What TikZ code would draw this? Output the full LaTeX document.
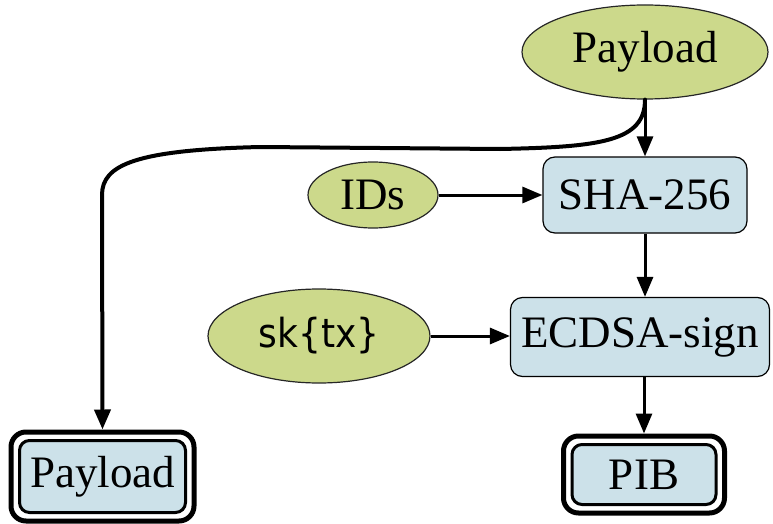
\documentclass[tikz,border=0pt]{standalone}
\usepackage{fontspec}
\setmainfont{Liberation Serif}
\newfontfamily\skfont{DejaVu Sans Condensed}
\usetikzlibrary{shapes.geometric,arrows.meta,calc}
\definecolor{ovalgreen}{HTML}{CCD98B}
\definecolor{boxblue}{HTML}{CCE1E9}
\begin{document}
\begin{tikzpicture}[x=1pt,y=-1pt,
  oval/.style={ellipse, draw=black!85, line width=1.2pt, fill=ovalgreen, inner sep=0pt, font=\fontsize{45}{50}\selectfont},
  proc/.style={rectangle, rounded corners=12pt, draw=black, line width=1.2pt, fill=boxblue, inner sep=0pt, font=\fontsize{45}{50}\selectfont},
  outbox/.style={rectangle, rounded corners=10pt, draw=black, line width=3pt, fill=boxblue, inner sep=0pt, font=\fontsize{45}{50}\selectfont},
  outring/.style={draw=black, line width=5pt, rounded corners=15pt},
  arr/.style={line width=3pt, -{Triangle[length=20pt,width=16pt]}},
  flow/.style={line width=4pt, line cap=round, -{Triangle[length=20pt,width=16pt]}}]
\useasboundingbox (0,0) rectangle (773,524);

\node[oval, minimum width=246pt, minimum height=94pt] (P) at (645,52) {Payload};
\node[oval, minimum width=130pt, minimum height=66pt] (IDs) at (373,195) {IDs};
\node[oval, minimum width=222pt, minimum height=94pt, font=\skfont\fontsize{40}{44}\selectfont] (sk) at (319,336) {sk\{tx\}};
\node[proc, minimum width=204pt, minimum height=76pt] (SHA) at (645,195) {SHA-256};
\node[proc, minimum width=259pt, minimum height=79pt] (EC) at (640,337) {ECDSA-sign};

\node[outbox, minimum width=144pt, minimum height=60pt] (PIB) at (644,474.5) {PIB};
\draw[outring] ($(PIB.north west)+(-7,-7)$) rectangle ($(PIB.south east)+(7,7)$);
\node[outbox, minimum width=166pt, minimum height=72pt] (PL) at (102.5,476.5) {Payload};
\draw[outring] ($(PL.north west)+(-7,-7)$) rectangle ($(PL.south east)+(7,7)$);

\coordinate (PIBtop) at ($(PIB.north)+(0,-9.5)$);
\coordinate (PLtop) at ($(PL.north)+(0,-9.5)$);
\coordinate (c1) at (500,149);
\coordinate (c2) at (260,147);
\coordinate (c3) at (102,195);

\draw[arr] (P.south) -- (SHA.north);
\draw[arr] (IDs.east) -- (SHA.west);
\draw[arr] (SHA.south) -- (SHA.south |- EC.north);
\draw[arr] (sk.east) -- (sk.east -| EC.west);
\draw[arr] (PIBtop |- EC.south) -- (PIBtop);
\draw[flow] (P.south) .. controls +(0,42) and (600,147) .. (c1) -- (c2) .. controls (135,150) and (102,165) .. (c3) -- (PLtop);
\end{tikzpicture}
\end{document}
